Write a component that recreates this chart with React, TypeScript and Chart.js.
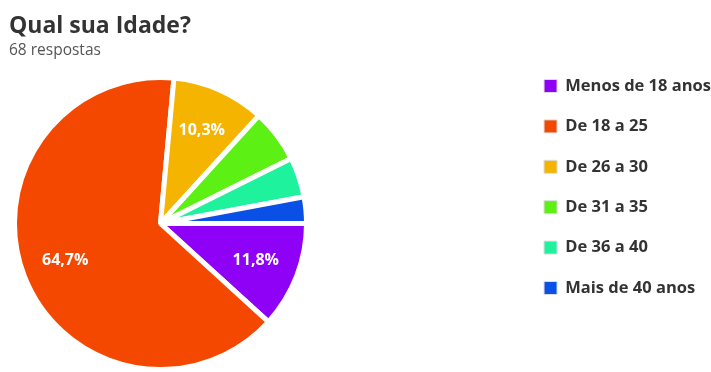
import { useEffect, useRef } from 'react';
import { Chart, registerables } from 'chart.js';
Chart.register(...registerables);

const categories = ['Menos de 18 anos', 'De 18 a 25', 'De 26 a 30', 'De 31 a 35', 'De 36 a 40', 'Mais de 40 anos'];
const counts = [8, 44, 7, 4, 3, 2];
const colors = ['#8f00f7', '#f44800', '#f4b400', '#5cf014', '#1ef29c', '#0b50e6'];
const titleText = 'Qual sua Idade?';
const subtitleText = '68 respostas';

const FONT = "'Open Sans', 'DejaVu Sans', sans-serif";

const pieArea = {
  id: 'pieArea',
  afterLayout(chart: any) {
    const left = 12, top = 75, size = 297;
    chart.chartArea = { left, top, right: left + size, bottom: top + size, width: size, height: size };
  },
};

const sliceLabels = {
  id: 'sliceLabels',
  afterDatasetsDraw(chart: any) {
    const ctx = chart.ctx;
    const meta = chart.getDatasetMeta(0);
    const data = chart.data.datasets[0].data as number[];
    const total = data.reduce((a, b) => a + b, 0);
    ctx.save();
    ctx.font = `bold 16px ${FONT}`;
    ctx.fillStyle = '#ffffff';
    ctx.textAlign = 'center';
    ctx.textBaseline = 'middle';
    meta.data.forEach((arc: any, i: number) => {
      const pct = (data[i] / total) * 100;
      if (pct < 8) return;
      const { startAngle, endAngle, outerRadius, x, y } = arc.getProps(['startAngle', 'endAngle', 'outerRadius', 'x', 'y'], true);
      const mid = (startAngle + endAngle) / 2;
      const r = outerRadius * 0.7;
      ctx.fillText(pct.toFixed(1).replace('.', ',') + '%', x + Math.cos(mid) * r, y + Math.sin(mid) * r);
    });
    ctx.restore();
  },
};

export default function App() {
  const ref = useRef<HTMLCanvasElement>(null);
  useEffect(() => {
    document.body.style.margin = '0';
    if (!ref.current) return;
    const chart = new Chart(ref.current, {
      type: 'pie',
      data: {
        labels: categories,
        datasets: [{ data: counts, backgroundColor: colors, borderColor: '#ffffff', borderWidth: 5 }],
      },
      options: {
        animation: false,
        responsive: false,
        rotation: 90,
        layout: { padding: { left: 9, right: -10, top: 0, bottom: 0 } },
        plugins: {
          tooltip: { enabled: false },
          title: {
            display: true, text: titleText, align: 'start', color: '#333333',
            font: { family: FONT, size: 23, weight: 'bold' }, padding: { top: 12.6, bottom: 0 },
          },
          subtitle: {
            display: true, text: subtitleText, align: 'start', color: '#555555',
            font: { family: FONT, size: 15.5 }, padding: { top: 1.5, bottom: 0 },
          },
          legend: {
            position: 'right', align: 'start',
            title: { display: true, text: ' ', font: { size: 10 }, padding: { top: 41.85, bottom: 0 } },
            labels: {
              color: '#333333', font: { family: FONT, size: 16.5, weight: 'bold' },
              boxWidth: 13, boxHeight: 13, padding: 23.9,
              generateLabels: (c: any) =>
                (Chart as any).overrides.pie.plugins.legend.labels.generateLabels(c).map((l: any) => ({ ...l, strokeStyle: '#dddddd', lineWidth: 1 })),
            },
          },
        },
      } as any,
      plugins: [pieArea, sliceLabels],
    });
    return () => chart.destroy();
  }, []);
  return (
    <div style={{ width: 711, height: 372, background: '#ffffff' }}>
      <canvas ref={ref} width={711} height={372} />
    </div>
  );
}
